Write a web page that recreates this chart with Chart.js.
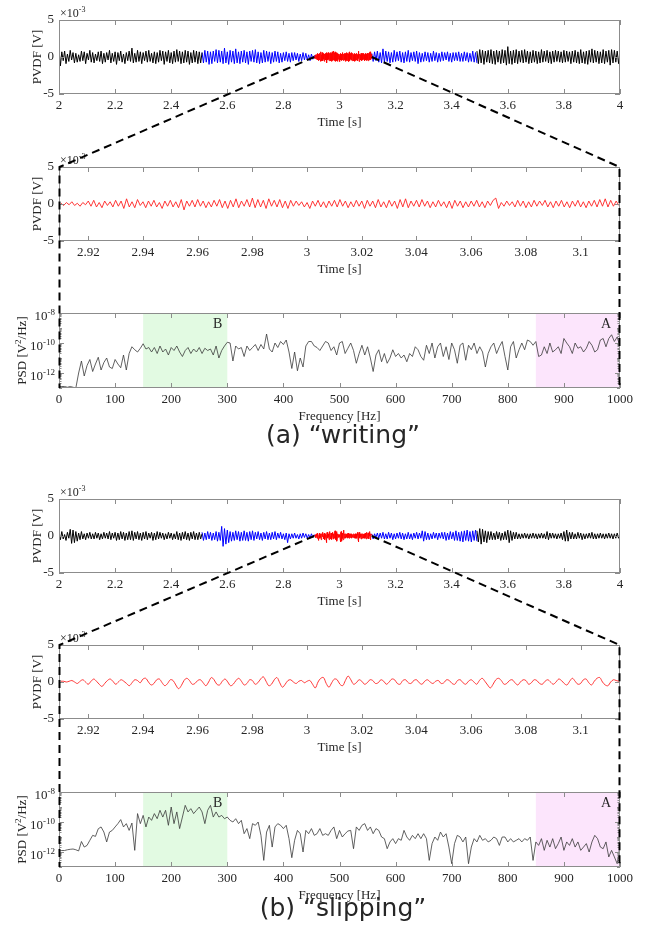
<!DOCTYPE html>
<html>
<head>
<meta charset="utf-8">
<script src="https://cdn.jsdelivr.net/npm/chart.js@4.4.1/dist/chart.umd.min.js"></script>
<style>
body{margin:0;background:#fff;width:649px;height:937px;position:relative;overflow:hidden}
canvas{position:absolute;left:0}
#over{top:0;z-index:5;pointer-events:none}
.cap{position:absolute;left:0;width:686px;text-align:center;font:25px "DejaVu Sans",sans-serif;line-height:28px;color:#262626}
</style>
</head>
<body>
<canvas id="a1"></canvas>
<canvas id="a2"></canvas>
<canvas id="a3"></canvas>
<div class="cap" style="top:421px">(a) “writing”</div>
<canvas id="b1"></canvas>
<canvas id="b2"></canvas>
<canvas id="b3"></canvas>
<div class="cap" style="top:894px">(b) “slipping”</div>
<canvas id="over" width="649" height="937"></canvas>
<script>
// PVDF traces, values in units of 1e-3 V (the axis carries the x10^-3 factor)
var sigStep = 0.005;   // s, overview traces
var zoomStep = 0.001;  // s, zoomed trace
var seg1Start = 2.0, seg2Start = 2.51, zoomStart = 2.91, zoomEnd = 3.115, seg5Start = 3.49;

var aBlack1 = [1.1,-1.2,0.7,-0.5,0.8,-0.9,0.4,-0.6,0.9,-0.4,
  0.6,-0.8,0.5,-0.7,0.3,-0.6,0.8,-0.5,0.7,-0.9, 0.5,-0.4,0.9,-0.7,0.6,-0.8,0.4,-0.5,0.7,-0.6,
  0.8,-0.9,0.5,-0.7,0.6,-0.4,0.9,-0.8,0.5,-0.6, 0.7,-1.0,0.6,-0.5,0.8,-0.7,0.4,-0.9,0.6,-0.5,
  0.8,-0.6,1.2,-0.8,0.5,-0.7,0.9,-0.6,0.7,-0.9, 0.6,-0.5,0.8,-0.7,0.9,-0.6,0.5,-0.8,0.7,-0.9,
  0.6,-0.7,0.9,-0.5,0.8,-1.0,0.7,-0.6,0.9,-0.8, 0.6,-0.9,0.8,-0.7,1.0,-0.6,0.8,-0.9,0.7,-0.8,
  0.9,-0.7,0.8,-1.0,0.6,-0.8,0.9,-0.7,0.8,-0.9, 0.7,-0.8,0.6];
var aBlue1 = [0.6,-0.8,0.9,-0.7,0.8,-1.0,0.7,-0.9,0.8,-0.6,
  1.0,-0.8,0.9,-0.7,0.8,-0.9,1.2,-0.8,0.7,-1.0, 0.9,-0.7,0.8,-0.9,1.1,-0.8,0.7,-0.9,0.8,-0.7,
  0.9,-0.8,0.7,-1.0,0.8,-0.6,0.9,-0.7,1.0,-0.8, 0.7,-0.9,0.6,-0.8,0.9,-0.7,0.8,-0.6,0.7,-0.9,
  0.6,-0.7,0.8,-0.6,0.7,-0.8,0.5,-0.7,0.6,-0.5, 0.7,-0.6,0.5,-0.7,0.6,-0.5,0.6,-0.4,0.5,-0.6,
  0.4,-0.5,0.6,-0.4,0.5,-0.4,0.3,-0.5,0.4,-0.3, 0.2];
var aRed = [0.1,-0.2,0.2,-0.1,0.3,-0.2,0.1,-0.3,0.2,-0.1,
  0.4,-0.3,0.5,-0.4,0.2,-0.5,0.4,-0.2,0.3,-0.4, 0.5,-0.3,0.4,-0.6,0.7,-0.4,0.3,-0.5,0.6,-0.2,
  0.3,-0.5,0.4,-0.3,0.5,-0.4,0.2,-0.6,0.4,-0.3, 0.5,-0.4,0.3,-0.5,0.6,-0.8,0.4,-0.3,0.5,-0.4,
  0.6,-0.3,0.4,-0.5,0.3,-0.4,0.5,-0.3,0.6,-0.5, 0.4,-0.6,0.5,-0.4,0.7,-0.5,0.4,-0.3,0.6,-0.4,
  0.8,-0.5,0.6,-0.4,0.5,-0.6,0.7,-0.3,0.5,-0.4, 0.6,-0.5,0.4,-0.6,0.5,-0.3,0.4,-0.2,0.3,-0.4,
  0.2,-0.6,0.4,-0.3,0.5,-0.4,0.3,-0.5,0.4,-0.3, 0.5,-0.4,0.6,-0.3,0.4,-0.5,0.3,-0.4,0.5,-0.3,
  0.4,-0.6,0.5,-0.3,0.4,-0.5,0.6,-0.4,0.3,-0.5, 0.5,-0.3,0.4,-0.6,0.6,-0.4,0.7,-0.5,0.4,-0.3,
  0.5,-0.4,0.6,-0.3,0.4,-0.5,0.3,-0.4,0.5,-0.3, 0.3,-0.5,0.4,-0.6,0.5,-0.3,0.4,-0.5,0.3,-0.4,
  0.4,-0.3,0.5,-0.4,0.3,-0.5,0.4,-0.2,0.5,0.8, -0.6,0.2,-0.3,0.4,-0.2,0.3,-0.4,0.5,-0.3,0.4,
  -0.5,0.3,-0.4,0.5,-0.3,0.4,-0.2,0.5,-0.4,0.3, -0.5,0.4,-0.3,0.5,-0.4,0.3,-0.5,0.4,-0.3,0.5,
  -0.4,0.3,-0.5,0.4,-0.3,0.5,-0.4,0.6,-0.3,0.7, -0.4,0.5,-0.3,0.4,-0.2,0.1];
var aBlue2 = [0.5,-0.6,0.7,-0.5,0.8,-0.7,0.6,-0.8,1.1,-0.7,
  0.8,-0.6,0.7,-0.8,0.6,-0.7,0.9,-0.6,0.7,-0.5, 0.8,-0.7,0.6,-0.8,0.7,-0.6,0.9,-0.7,0.6,-0.5,
  0.7,-0.6,0.8,-0.9,0.6,-0.7,0.5,-0.6,0.7,-0.5, 0.6,-0.7,0.5,-0.6,0.8,-0.5,0.6,-0.7,0.5,-0.6,
  0.7,-0.5,0.6,-0.4,0.7,-0.6,0.5,-0.7,0.6,-0.5, 0.6,-0.5,0.7,-0.6,0.5,-0.6,0.7,-0.5,0.6,-0.7,
  0.5,-0.6,0.8,-0.7,0.6,-0.8];
var aBlack2 = [0.8,-0.9,1.0,-0.8,0.9,-1.0,0.8,-0.7,0.9,-0.8,
  1.0,-0.9,0.8,-1.0,0.9,-0.7,0.8,-0.9,1.0,-0.8, 0.9,-1.1,1.4,-0.9,0.8,-1.0,0.9,-0.8,1.0,-0.9,
  0.8,-0.7,0.9,-0.8,1.0,-0.7,0.8,-0.9,0.7,-0.8, 0.9,-0.7,0.8,-0.9,0.7,-0.8,1.0,-0.7,0.8,-0.6,
  0.9,-0.8,0.7,-0.9,0.8,-0.7,0.9,-0.6,0.8,-0.7, 0.7,-0.8,0.9,-0.7,0.8,-0.6,0.7,-0.9,0.8,-0.7,
  0.9,-0.8,0.7,-0.9,1.0,-0.8,0.7,-0.9,0.8,-1.0, 0.9,-0.7,1.1,-0.8,0.9,-0.7,0.8,-0.9,0.7,-0.8,
  1.0,-0.9,0.8,-0.7,0.9,-1.1,1.0,-0.8,0.9,-0.7, 0.8,-0.9,0.7];

var bBlack1 = [0.3,-0.5,0.6,-0.4,0.2,-0.6,0.5,-0.3,0.9,-1.0,
  0.8,-0.9,0.6,-0.7,0.4,-0.5,0.6,-0.4,0.3,-0.5, 0.4,-0.3,0.5,-0.4,0.3,-0.4,0.5,-0.3,0.4,-0.5,
  0.3,-0.4,0.5,-0.3,0.4,-0.4,0.6,-0.5,0.4,-0.3, 0.5,-0.6,0.4,-0.5,0.6,-0.4,0.5,-0.6,0.4,-0.5,
  0.6,-0.5,0.7,-0.6,0.5,-0.4,0.6,-0.5,0.4,-0.6, 0.5,-0.4,0.6,-0.5,0.4,-0.3,0.5,-0.6,0.4,-0.5,
  0.6,-0.4,0.5,-0.3,0.4,-0.5,0.3,-0.4,0.5,-0.3, 0.4,-0.5,0.3,-0.4,0.6,-0.5,0.4,-0.6,0.5,-0.4,
  0.6,-0.5,0.4,-0.6,0.5,-0.4,0.6,-0.5,0.4,-0.5, 0.5,-0.4,0.3];
var bBlue1 = [0.5,-0.6,0.4,-0.5,0.6,-0.4,0.5,-0.6,0.4,-0.5,
  0.6,-0.7,0.5,-0.6,1.3,-1.4,1.0,-1.1,0.8,-0.9, 0.6,-0.7,0.5,-0.6,0.7,-0.5,0.6,-0.7,0.5,-0.6,
  0.7,-0.6,0.5,-0.7,0.6,-0.5,0.7,-0.6,0.5,-0.4, 0.6,-0.5,0.4,-0.6,0.5,-0.4,0.6,-0.5,0.4,-0.5,
  0.5,-0.4,0.6,-0.5,0.4,-0.3,0.5,-0.4,0.3,-0.5, 0.4,-0.9,0.3,-0.4,0.3,-0.3,0.4,-0.3,0.2,-0.4,
  0.3,-0.3,0.4,-0.2,0.3,-0.3,0.2,-0.3,0.3,-0.2, 0.2];
var bRed = [0.1,0.1,0.0,0.1,0.2,0.0,-0.2,0.1,0.3,0.0,
  -0.3,0.1,0.4,0.1,-0.3,-0.6,-0.2,0.2,0.4,0.1, -0.3,0.0,0.3,0.1,-0.2,-0.5,-0.1,0.3,0.2,-0.1,
  0.4,0.5,0.0,-0.4,-0.2,0.3,0.4,-0.1,-0.5,-0.2, 0.3,0.2,-0.4,-0.9,-0.5,0.2,0.5,0.2,-0.3,-0.2,
  0.2,0.3,-0.1,-0.5,0.0,0.6,0.3,-0.3,-0.4,0.1, 0.4,0.0,-0.5,-0.3,0.2,0.5,0.1,-0.4,-0.2,0.3,
  0.2,-0.3,-0.1,0.4,0.7,0.1,-0.5,-0.3,0.3,0.6, -0.1,-0.7,-0.3,0.2,0.3,0.0,-0.2,0.1,0.2,-0.1,
  0.1,0.2,-0.3,-0.8,0.0,0.5,0.6,-0.2,-0.7,-0.1, 0.4,0.3,-0.3,-0.5,0.2,0.8,0.3,-0.3,-0.1,0.3,
  0.1,-0.3,-0.1,0.3,0.2,-0.2,-0.1,0.3,0.1,-0.3, 0.0,0.4,0.3,-0.2,-0.3,0.2,0.3,-0.1,-0.2,0.2,
  0.3,-0.1,-0.3,0.1,0.3,0.0,-0.2,0.1,0.2,-0.2, -0.1,0.3,0.2,-0.2,-0.3,0.2,0.3,-0.1,-0.3,0.1,
  0.3,0.0,-0.3,0.2,0.5,0.1,-0.4,-0.8,-0.3,0.3, 0.5,0.2,-0.3,-0.2,0.2,0.3,-0.1,-0.4,0.0,0.3,
  0.2,-0.3,-0.1,0.3,0.2,-0.2,-0.3,0.1,0.3,0.0, -0.3,0.0,0.4,0.2,-0.2,-0.4,0.1,0.5,0.1,-0.3,
  -0.2,0.3,0.4,-0.1,-0.4,0.1,0.5,0.6,0.0,-0.4, -0.5,0.0,0.3,0.2,0.1,0.1];
var bBlue2 = [0.3,-0.4,0.3,-0.2,0.4,-0.3,0.4,-0.3,0.5,-0.4,
  0.3,-0.4,0.5,-0.3,0.4,-0.5,0.3,-0.4,0.4,-0.3, 0.5,-0.4,0.4,-0.5,0.3,-0.4,0.5,-0.4,0.3,-0.5,
  0.4,-0.3,0.5,-0.4,0.4,-0.3,0.7,-0.7,0.6,-0.5, 0.4,-0.5,0.3,-0.4,0.5,-0.3,0.4,-0.5,0.4,-0.3,
  0.5,-0.4,0.5,-0.6,0.4,-0.5,0.6,-0.4,0.5,-0.6, 0.7,-0.6,0.5,-0.7,0.6,-0.8,0.7,-0.6,0.8,-0.7,
  0.6,-0.8,0.7,-0.6,0.8,-0.7];
var bBlack2 = [0.7,-0.8,1.0,-1.1,0.9,-0.8,0.7,-0.9,0.6,-0.5,
  0.6,-0.5,0.4,-0.5,0.6,-0.4,0.5,-0.6,0.4,-0.5, 0.6,-0.5,0.8,-0.9,0.7,-0.6,0.5,-0.4,0.5,-0.4,
  0.3,-0.4,0.3,-0.3,0.4,-0.3,0.3,-0.4,0.3,-0.3, 0.4,-0.3,0.3,-0.4,0.3,-0.3,0.4,-0.3,0.3,-0.4,
  0.6,-0.5,0.4,-0.3,0.4,-0.3,0.3,-0.4,0.3,-0.3, 0.4,-0.5,0.6,-0.7,0.8,-0.7,0.5,-0.4,0.5,-0.4,
  0.3,-0.4,0.5,-0.3,0.4,-0.5,0.3,-0.4,0.3,-0.3, 0.4,-0.3,0.5,-0.4,0.3,-0.4,0.3,-0.3,0.4,-0.3,
  0.3,-0.4,0.3,-0.3,0.4,-0.3,0.3,-0.4,0.3,-0.3, 0.4,-0.3,0.2];

// PSD, log10 of V^2/Hz, one value every psdStep Hz from 0 to 1000
var psdStep = 5;
var aPsdExp = [-12.9,-12.9,-12.9,-12.95,-12.9,-12.95,-13.0,-12.0,-11.2,-12.2,
  -11.5,-11.1,-11.9,-11.4,-10.95,-11.8,-11.3,-11.0,-11.6,-11.7,
  -11.1,-11.4,-11.65,-10.8,-11.8,-10.7,-10.25,-10.45,-10.6,-10.35,
  -10.05,-10.4,-10.3,-10.6,-10.3,-10.7,-10.2,-10.6,-10.4,-10.8,
  -10.3,-10.5,-10.2,-10.6,-10.9,-10.5,-10.3,-10.7,-10.4,-10.6,
  -10.3,-10.7,-10.35,-10.5,-10.4,-10.8,-10.2,-11.0,-10.5,-10.2,
  -9.95,-10.0,-11.2,-10.2,-10.4,-10.3,-10.9,-10.2,-10.5,-10.3,
  -10.1,-10.5,-10.1,-10.4,-9.4,-10.4,-10.6,-10.0,-10.3,-9.9,
  -10.1,-9.8,-10.6,-11.7,-10.6,-11.85,-11.0,-11.6,-10.2,-9.9,
  -9.9,-10.2,-10.3,-10.5,-10.2,-9.9,-10.0,-10.5,-10.25,-10.8,
  -10.0,-9.9,-10.7,-10.35,-10.0,-10.5,-11.35,-10.7,-10.15,-10.8,
  -10.25,-11.0,-11.9,-10.8,-10.45,-11.25,-10.7,-11.35,-11.0,-10.45,
  -10.9,-10.7,-11.0,-10.8,-11.25,-10.7,-10.9,-10.25,-10.45,-10.9,
  -11.15,-10.15,-10.7,-10.0,-11.0,-10.25,-10.0,-10.9,-10.25,-11.1,
  -10.0,-10.45,-11.35,-10.15,-10.0,-11.15,-10.15,-10.45,-10.0,-10.7,
  -10.25,-10.6,-11.6,-10.7,-10.25,-10.0,-10.7,-10.25,-9.9,-10.9,
  -11.8,-10.25,-9.9,-11.0,-10.45,-10.0,-10.45,-9.8,-9.9,-10.15,
  -9.9,-10.9,-10.8,-10.25,-10.7,-10.0,-10.6,-10.45,-10.25,-10.7,
  -9.7,-10.0,-10.25,-10.7,-10.0,-10.35,-10.25,-10.6,-10.35,-9.9,
  -10.15,-10.6,-10.45,-9.8,-9.7,-10.25,-9.7,-9.45,-9.9,-9.6,
  -10.25];
var bPsdExp = [-11.93,-11.9,-11.9,-11.85,-11.82,-11.8,-11.85,-11.93,-11.3,-11.67,
  -11.56,-11.22,-10.89,-10.96,-10.45,-10.33,-10.67,-11.33,-10.67,-10.56,
  -10.33,-10.11,-9.84,-10.33,-10.11,-10.56,-10.07,-11.89,-9.44,-10.11,
  -9.56,-10.33,-9.67,-9.89,-9.44,-9.78,-9.22,-9.67,-9.22,-10.22,
  -9.0,-10.11,-9.33,-10.44,-9.67,-8.89,-9.33,-9.11,-9.44,-9.22,
  -9.0,-9.33,-10.11,-9.22,-8.89,-9.67,-9.33,-9.67,-9.56,-9.78,
  -9.67,-9.89,-10.0,-9.78,-10.11,-9.89,-10.78,-10.44,-11.11,-10.11,
  -10.22,-10.0,-10.89,-12.56,-10.67,-10.22,-11.67,-10.33,-10.11,-10.22,
  -10.44,-10.22,-11.11,-12.38,-11.22,-10.56,-10.78,-12.0,-10.56,-10.78,
  -10.44,-10.89,-10.78,-10.44,-10.89,-10.78,-10.89,-10.56,-10.33,-11.11,
  -10.56,-11.0,-10.78,-10.6,-10.56,-11.78,-10.33,-10.56,-10.22,-10.11,
  -10.56,-10.33,-10.78,-10.44,-10.56,-11.0,-11.11,-11.78,-11.33,-11.11,
  -11.44,-11.11,-11.22,-10.56,-11.0,-11.22,-10.89,-11.11,-10.78,-11.11,
  -10.78,-11.11,-12.56,-11.44,-11.0,-11.22,-10.67,-11.0,-10.78,-11.67,
  -12.78,-11.44,-10.89,-11.0,-11.33,-11.0,-12.78,-11.67,-11.11,-11.33,
  -10.89,-11.22,-11.11,-11.33,-11.22,-11.0,-11.11,-11.56,-11.0,-11.0,
  -11.33,-11.11,-11.33,-11.22,-11.11,-11.33,-11.11,-11.22,-11.0,-12.56,
  -11.33,-11.56,-11.11,-11.89,-11.22,-11.67,-11.11,-11.78,-11.44,-11.0,
  -11.89,-11.33,-11.56,-11.11,-11.67,-11.33,-11.89,-11.67,-11.44,-12.0,
  -11.33,-10.89,-11.11,-11.67,-11.78,-11.33,-12.33,-11.89,-12.33,-12.78,
  -11.56];

// axes
var timeTicks = [2, 2.2, 2.4, 2.6, 2.8, 3, 3.2, 3.4, 3.6, 3.8, 4];
var zoomTicks = [2.92, 2.94, 2.96, 2.98, 3, 3.02, 3.04, 3.06, 3.08, 3.1];
var zoomMin = 2.9093, zoomMax = 3.1144;
var freqTicks = [0, 100, 200, 300, 400, 500, 600, 700, 800, 900, 1000];
var voltTicks = [-5, 0, 5];
var psdDecades = [-13, -12, -11, -10, -9, -8];
var psdLabelled = [-12, -10, -8];
var bands = [
  {from: 150, to: 300, name: 'B', at: 283, color: 'rgb(226,250,226)'},
  {from: 850, to: 1000, name: 'A', at: 975, color: 'rgb(252,229,252)'}
];

var SERIF = '"Liberation Serif", "Times New Roman", serif';
var INK = '#262626';
var BOX = '#8c8c8c';
var W = 649, PLOT_L = 59, PLOT_R = 620, PAD_T = 20, AX_H = 42, TL = 5;

function pts(arr, t0, dt) {
  return arr.map(function (v, i) { return {x: t0 + i * dt, y: v}; });
}
function psdPts(arr) {
  return arr.map(function (e, i) { return {x: i * psdStep, y: Math.pow(10, e)}; });
}
function fmt(v) { return String(+v.toFixed(3)); }
function line(data, color, w, tension) {
  return {data: data, borderColor: color, borderWidth: w, pointRadius: 0, tension: tension || 0};
}

// text with superscripts: parts = [[text, isSup], ...]
function drawPow(ctx, parts, x, y, align, size) {
  var big = size + 'px ' + SERIF, small = Math.round(size * 0.7) + 'px ' + SERIF;
  var w = 0;
  parts.forEach(function (p) { ctx.font = p[1] ? small : big; w += ctx.measureText(p[0]).width; });
  var cx = align === 'right' ? x - w : align === 'center' ? x - w / 2 : x;
  ctx.textAlign = 'left';
  ctx.textBaseline = 'alphabetic';
  parts.forEach(function (p) {
    ctx.font = p[1] ? small : big;
    ctx.fillText(p[0], cx, p[1] ? y - 5 : y);
    cx += ctx.measureText(p[0]).width;
  });
}

var decoPlugin = {
  id: 'deco',
  beforeDatasetsDraw: function (chart, args, o) {
    if (!o.bands) return;
    var ctx = chart.ctx, a = chart.chartArea, x = chart.scales.x;
    ctx.save();
    o.bands.forEach(function (b) {
      var x0 = x.getPixelForValue(b.from), x1 = x.getPixelForValue(b.to);
      ctx.fillStyle = b.color;
      ctx.fillRect(x0, a.top, x1 - x0, a.bottom - a.top);
    });
    ctx.restore();
  },
  afterDatasetsDraw: function (chart, args, o) {
    var ctx = chart.ctx, a = chart.chartArea, x = chart.scales.x, y = chart.scales.y;
    ctx.save();
    ctx.strokeStyle = BOX;
    ctx.lineWidth = 1;
    ctx.strokeRect(a.left + 0.5, a.top + 0.5, a.right - a.left - 1, a.bottom - a.top - 1);
    ctx.beginPath();
    x.ticks.forEach(function (t) {
      var px = Math.round(x.getPixelForValue(t.value)) + 0.5;
      ctx.moveTo(px, a.top); ctx.lineTo(px, a.top + TL);
      ctx.moveTo(px, a.bottom); ctx.lineTo(px, a.bottom - TL);
    });
    y.ticks.forEach(function (t) {
      var py = Math.round(y.getPixelForValue(t.value)) + 0.5;
      var len = TL;
      if (o.psd && psdLabelled.indexOf(Math.round(Math.log10(t.value))) < 0) len = 3;
      ctx.moveTo(a.left, py); ctx.lineTo(a.left + len, py);
      ctx.moveTo(a.right, py); ctx.lineTo(a.right - len, py);
    });
    if (o.psd) {
      psdDecades.slice(0, -1).forEach(function (e) {
        for (var m = 2; m < 10; m++) {
          var py = Math.round(y.getPixelForValue(m * Math.pow(10, e))) + 0.5;
          ctx.moveTo(a.left, py); ctx.lineTo(a.left + 2.5, py);
          ctx.moveTo(a.right, py); ctx.lineTo(a.right - 2.5, py);
        }
      });
    }
    ctx.stroke();
    ctx.fillStyle = INK;
    if (o.bands) {
      ctx.font = '14px ' + SERIF;
      ctx.textAlign = 'center';
      ctx.textBaseline = 'alphabetic';
      o.bands.forEach(function (b) {
        ctx.fillText(b.name, x.getPixelForValue(b.at), a.top + 15);
      });
    }
    if (o.exp) {
      drawPow(ctx, [['\u00d710', 0], ['-3', 1]], a.left + 1, a.top - 3, 'left', 12);
    }
    if (o.psd) {
      psdLabelled.forEach(function (e) {
        var py = y.getPixelForValue(Math.pow(10, e));
        drawPow(ctx, [['10', 0], [String(e), 1]], a.left - 4, py + 6.5, 'right', 13);
      });
      ctx.translate(21, (a.top + a.bottom) / 2);
      ctx.rotate(-Math.PI / 2);
      drawPow(ctx, [['PSD [V', 0], ['2', 1], ['/Hz]', 0]], 0, 4.5, 'center', 13);
    }
    ctx.restore();
  }
};

function panel(id, plotTop, plotH, opt) {
  var cv = document.getElementById(id);
  cv.width = W;
  cv.height = PAD_T + plotH + AX_H;
  cv.style.top = (plotTop - PAD_T) + 'px';
  var font = {family: SERIF, size: 13};
  var noGrid = {display: false, drawTicks: false};
  var y;
  if (opt.psd) {
    y = {type: 'logarithmic', min: 1e-13, max: 1e-8,
      afterFit: function (s) { s.width = PLOT_L; },
      afterBuildTicks: function (s) { s.ticks = psdDecades.map(function (e) { return {value: Math.pow(10, e)}; }); },
      grid: noGrid, border: {display: false}, ticks: {display: false}};
  } else {
    y = {type: 'linear', min: -5, max: 5,
      afterFit: function (s) { s.width = PLOT_L; },
      afterBuildTicks: function (s) { s.ticks = voltTicks.map(function (v) { return {value: v}; }); },
      grid: noGrid, border: {display: false},
      ticks: {padding: 5, color: INK, font: font, callback: function (v) { return String(v); }},
      title: {display: true, text: 'PVDF [V]', color: INK, font: font, padding: {top: 30, bottom: 0}}};
  }
  var chart = new Chart(cv, {
    type: 'line',
    data: {datasets: opt.datasets},
    options: {
      responsive: false, animation: false, events: [],
      layout: {padding: {top: PAD_T, right: W - PLOT_R, left: 0, bottom: 0}},
      plugins: {legend: {display: false}, tooltip: {enabled: false},
        deco: {psd: !!opt.psd, exp: !opt.psd, bands: opt.psd ? bands : null}},
      scales: {
        x: {type: 'linear', min: opt.xMin, max: opt.xMax,
          afterFit: function (s) { s.height = AX_H; },
          afterBuildTicks: function (s) { s.ticks = opt.xTicks.map(function (v) { return {value: v}; }); },
          grid: noGrid, border: {display: false},
          ticks: {padding: 4, color: INK, font: font, maxRotation: 0, autoSkip: false, callback: fmt},
          title: {display: true, text: opt.xTitle, color: INK, font: font, padding: {top: 0, bottom: 6}}},
        y: y
      }
    },
    plugins: [decoPlugin]
  });
  chart.$top = plotTop - PAD_T;
  return chart;
}

function figure(ids, tops, s) {
  var top = panel(ids[0], tops[0], 74, {xMin: 2, xMax: 4, xTicks: timeTicks, xTitle: 'Time [s]', datasets: [
    line(pts(s.black1, seg1Start, sigStep), '#000', 1),
    line(pts(s.blue1, seg2Start, sigStep), '#0000ff', 1),
    line(pts(s.red, zoomStart, zoomStep), '#ff0000', 1),
    line(pts(s.blue2, zoomEnd, sigStep), '#0000ff', 1),
    line(pts(s.black2, seg5Start, sigStep), '#000', 1)]});
  var mid = panel(ids[1], tops[1], 74, {xMin: zoomMin, xMax: zoomMax, xTicks: zoomTicks, xTitle: 'Time [s]', datasets: [
    line(pts(s.red, zoomStart, zoomStep), '#ff2020', 0.9, s.tension)]});
  var bot = panel(ids[2], tops[2], 75, {psd: true, xMin: 0, xMax: 1000, xTicks: freqTicks, xTitle: 'Frequency [Hz]', datasets: [
    line(psdPts(s.psd), '#3a3a3a', 0.8)]});
  // dashed zoom connectors
  var ctx = document.getElementById('over').getContext('2d');
  var y0 = top.$top + top.scales.y.getPixelForValue(0);
  var xa = top.scales.x.getPixelForValue(zoomStart), xb = top.scales.x.getPixelForValue(zoomEnd);
  var ma = mid.chartArea, ba = bot.chartArea;
  ctx.save();
  ctx.setLineDash([8, 5]);
  ctx.lineWidth = 2;
  ctx.strokeStyle = '#000';
  ctx.beginPath();
  ctx.moveTo(xa, y0); ctx.lineTo(ma.left + 0.5, mid.$top + ma.top); ctx.lineTo(ba.left + 0.5, bot.$top + ba.bottom);
  ctx.moveTo(xb, y0); ctx.lineTo(ma.right - 0.5, mid.$top + ma.top); ctx.lineTo(ba.right - 0.5, bot.$top + ba.bottom);
  ctx.stroke();
  ctx.restore();
}

figure(['a1', 'a2', 'a3'], [20, 167, 313],
  {black1: aBlack1, blue1: aBlue1, red: aRed, blue2: aBlue2, black2: aBlack2, psd: aPsdExp, tension: 0});
figure(['b1', 'b2', 'b3'], [499, 645, 792],
  {black1: bBlack1, blue1: bBlue1, red: bRed, blue2: bBlue2, black2: bBlack2, psd: bPsdExp, tension: 0.35});
</script>
</body>
</html>
